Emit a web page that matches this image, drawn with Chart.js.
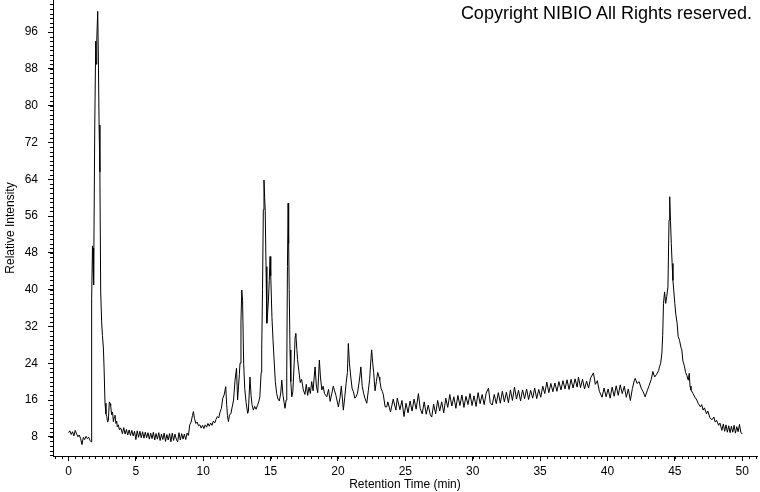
<!DOCTYPE html>
<html>
<head>
<meta charset="utf-8">
<script src="https://cdn.jsdelivr.net/npm/chart.js@4/dist/chart.umd.min.js"></script>
<style>
    html, body { margin: 0; padding: 0; background: #fff; }
    #wrap { position: relative; width: 760px; height: 492px; }
    #copyright {
        position: absolute; top: 4px; right: 8px;
        font: 18px/18px Arial, "Liberation Sans", sans-serif; color: #000;
    }
</style>
</head>
<body>
<div id="wrap">
    <canvas id="chart" width="760" height="492"></canvas>
    <div id="copyright">Copyright NIBIO All Rights reserved.</div>
</div>
<script>
// retention time (min) and relative intensity
const retentionTime = [
    0, 0.1, 0.2, 0.3, 0.4, 0.5, 0.6, 0.7, 0.8, 0.9, 1.0, 1.1, 1.2, 1.3, 1.4, 1.5, 1.6, 1.68,
    1.70, 1.74, 1.78, 1.82, 1.85, 1.88, 1.95, 2.02, 2.06, 2.10, 2.17, 2.22, 2.27, 2.33, 2.39, 2.46, 2.52, 2.59, 2.64, 2.71,
    2.78, 2.84, 2.90, 2.96, 3.03, 3.09, 3.13, 3.20, 3.27, 3.33, 3.39, 3.45, 3.52, 3.58, 3.62, 3.70, 3.77, 3.82,
    3.9, 4.0, 4.1, 4.2, 4.3, 4.4, 4.5, 4.6, 4.7, 4.8, 4.9, 5.0, 5.1, 5.2, 5.3, 5.4, 5.5, 5.6, 5.7, 5.8,
    5.9, 6.0, 6.1, 6.2, 6.3, 6.4, 6.5, 6.6, 6.7, 6.8, 6.9, 7.0, 7.1, 7.2, 7.3, 7.4, 7.5, 7.6, 7.7, 7.8,
    7.9, 8.0, 8.1, 8.2, 8.3, 8.4, 8.5, 8.6, 8.7, 8.8, 8.9,
    9.0, 9.1, 9.2, 9.27, 9.35, 9.45, 9.55, 9.65, 9.75, 9.85, 9.95, 10.05, 10.15, 10.25, 10.35, 10.45, 10.55, 10.65, 10.75, 10.85, 10.95, 11.05,
    11.15, 11.25, 11.35, 11.45, 11.55, 11.67, 11.74, 11.80, 11.87, 11.95, 12.05, 12.15, 12.25, 12.36, 12.47, 12.55, 12.62, 12.68, 12.73, 12.80,
    12.86, 12.92, 13.0, 13.08, 13.18, 13.30, 13.35, 13.47, 13.55, 13.62, 13.72, 13.82, 13.92, 14.02, 14.12, 14.2,
    14.3, 14.34, 14.40, 14.46, 14.51, 14.56, 14.6, 14.66, 14.72, 14.78, 14.84, 14.90, 14.96, 15.01, 15.10, 15.18, 15.26, 15.35, 15.45, 15.55,
    15.65, 15.75, 15.83, 15.92, 16.0, 16.07, 16.15, 16.2, 16.25, 16.3, 16.34, 16.38, 16.44, 16.5, 16.57, 16.65, 16.75, 16.82, 16.87, 16.95, 17.0,
    17.09, 17.2, 17.3, 17.43, 17.55, 17.65, 17.75, 17.85, 17.95, 18.05, 18.15, 18.3, 18.4, 18.5, 18.62, 18.7, 18.8, 18.9, 19.0, 19.17,
    19.3, 19.42, 19.55, 19.65, 19.75, 19.85, 20.03, 20.15, 20.25, 20.4, 20.5, 20.6, 20.7, 20.77, 20.85, 20.95, 21.05, 21.15, 21.25, 21.34,
    21.45, 21.55, 21.62, 21.7, 21.8, 21.9, 22.0, 22.14, 22.25, 22.35, 22.45, 22.5, 22.58, 22.65, 22.75, 22.85, 22.95, 23.05, 23.1, 23.2,
    23.3, 23.37, 23.5, 23.62,
    23.7, 23.9, 24.1, 24.3, 24.4, 24.6, 24.75, 24.9, 25.05, 25.2, 25.35, 25.5, 25.65, 25.8, 25.97, 26.1, 26.25, 26.4, 26.55, 26.7,
    26.85, 26.96, 27.1, 27.25, 27.4, 27.55, 27.7, 27.85, 28.0, 28.15, 28.3, 28.45, 28.6, 28.75, 28.9, 29.05, 29.2, 29.35, 29.5, 29.65,
    29.8, 29.95, 30.1, 30.25, 30.4, 30.55, 30.7, 30.85, 31.0, 31.17, 31.3, 31.45, 31.6, 31.75, 31.9, 32.05, 32.2, 32.35, 32.5, 32.65,
    32.8, 32.95, 33.1, 33.25, 33.4, 33.55, 33.7, 33.85, 34.0, 34.15, 34.3, 34.45, 34.6, 34.75, 34.9, 35.05, 35.2, 35.35, 35.5, 35.65,
    35.8, 35.95, 36.1, 36.25, 36.4, 36.55, 36.7, 36.85, 37.0, 37.15, 37.3, 37.45, 37.6, 37.75, 37.85, 38.0, 38.15, 38.3, 38.45, 38.6,
    38.75, 38.96, 39.1, 39.25, 39.4, 39.6, 39.75, 39.9, 40.05, 40.2, 40.35, 40.5, 40.65, 40.8, 40.95, 41.1, 41.25, 41.4, 41.55, 41.7,
    41.85, 42.0, 42.06, 42.2, 42.35, 42.5, 42.65, 42.8, 42.95, 43.1, 43.25, 43.37, 43.5, 43.65, 43.8, 43.86, 43.95,
    44.04, 44.1, 44.16, 44.24, 44.32, 44.4, 44.49, 44.57, 44.62, 44.68, 44.74, 44.8, 44.86, 44.92, 45.0, 45.08, 45.17, 45.25, 45.35, 45.45,
    45.52, 45.6, 45.7, 45.8, 45.9, 46.0, 46.07, 46.13, 46.2, 46.35, 46.5, 46.63, 46.75, 46.9, 47.0, 47.1, 47.2, 47.35, 47.45, 47.6,
    47.75, 47.9, 48.0, 48.1, 48.25, 48.35, 48.49, 48.6, 48.7, 48.8, 48.9, 49.0, 49.1, 49.2, 49.3, 49.4, 49.5, 49.6, 49.7, 49.8,
    49.9, 50.0
];

const intensity = [
    8.9, 9.3, 8.5, 9.1, 8.2, 9.4, 8.6, 8.0, 8.4, 7.6, 6.3, 7.9, 7.4, 8.1, 7.6, 7.9, 7.2, 6.9,
    20.0, 38.0, 49.5, 45.5, 49.0, 41.0, 75.8, 94.0, 89.0, 94.5, 100.5, 89.5, 75.8, 65.6, 39.5, 33.0, 30.0, 27.3, 23.0, 15.3,
    13.0, 12.4, 11.2, 11.6, 15.6, 15.2, 14.8, 12.8, 13.4, 11.3, 12.2, 12.7, 10.9, 11.4, 10.2, 10.6, 9.6, 9.9,
    9.8, 8.7, 10.0, 8.6, 9.6, 8.4, 9.5, 8.3, 9.4, 8.2, 9.2, 7.4, 9.3, 7.9, 9.2, 7.8, 9.1, 7.7, 9.0, 7.8,
    8.9, 7.5, 8.8, 7.6, 9.0, 7.3, 8.7, 7.5, 8.9, 7.2, 8.6, 7.4, 8.8, 7.0, 8.5, 7.3, 8.7, 6.9, 8.8, 7.2,
    8.6, 7.5, 6.9, 8.9, 7.3, 8.7, 7.5, 8.6, 7.4, 8.8, 8.3,
    10.6, 11.2, 12.6, 13.5, 12.0, 10.9, 11.2, 10.4, 10.6, 9.9, 10.5, 9.8, 10.6, 10.1, 10.9, 10.3, 11.0, 10.5, 11.4, 11.0, 11.8, 12.4,
    12.1, 13.4, 14.2, 16.4, 17.1, 18.9, 15.0, 12.6, 11.3, 12.8, 13.0, 14.5, 16.0, 20.3, 22.9, 16.0, 19.0, 21.5, 24.0, 33.0,
    39.9, 37.7, 24.0, 18.5, 15.5, 13.1, 13.5, 21.0, 17.0, 15.0, 13.8, 14.6, 14.0, 14.8, 15.6, 16.7,
    22.0, 26.9, 40.0, 57.3, 63.8, 60.0, 57.3, 45.0, 32.7, 35.0, 37.7, 42.0, 47.2, 43.0, 34.0, 29.0, 24.7, 20.0, 17.4, 16.2,
    15.8, 17.5, 20.3, 17.0, 15.5, 14.2, 16.0, 22.5, 45.0, 58.8, 50.0, 40.0, 26.9, 20.0, 16.7, 17.8, 24.0, 29.8, 30.5, 27.0, 24.8,
    22.5, 19.8, 20.5, 18.2, 17.2, 19.4, 17.0, 18.8, 17.4, 20.0, 18.0, 23.2, 19.0, 17.6, 24.7, 21.0, 18.2, 19.0, 17.4, 16.7,
    18.3, 15.7, 17.5, 19.0, 18.0, 17.0, 14.5, 16.5, 19.0, 13.8, 16.5, 19.5, 22.0, 28.3, 24.0, 21.0, 18.5, 17.8, 16.4, 16.7,
    17.5, 19.5, 21.0, 23.2, 19.0, 17.5, 16.4, 15.3, 18.0, 20.5, 25.0, 26.9, 24.0, 22.0, 18.0, 20.0, 22.0, 21.0, 20.3, 18.5,
    17.8, 17.1, 14.5, 14.5,
    15.6, 13.4, 16.2, 13.8, 16.4, 13.9, 15.9, 12.4, 15.3, 13.2, 15.8, 13.6, 16.2, 14.0, 17.4, 14.2, 13.0, 15.6, 12.9, 14.9,
    12.8, 12.3, 15.1, 13.0, 15.9, 13.6, 15.6, 13.2, 16.4, 14.4, 17.2, 14.7, 16.7, 14.2, 17.0, 14.8, 17.1, 14.4, 16.8, 15.0,
    17.4, 14.8, 16.9, 14.6, 17.6, 15.2, 17.2, 15.0, 17.5, 18.6, 15.4, 14.9, 17.2, 15.2, 17.6, 15.3, 17.9, 15.6, 17.7, 15.4,
    18.2, 15.9, 18.8, 16.2, 18.1, 15.8, 18.2, 16.3, 18.4, 16.1, 18.1, 16.4, 18.6, 16.3, 18.3, 16.6, 19.0, 17.4, 19.9, 17.6,
    19.6, 17.8, 19.7, 17.9, 20.0, 18.2, 20.2, 18.4, 20.4, 18.3, 20.5, 18.6, 20.6, 18.8, 21.0, 18.7, 20.5, 18.4, 20.1, 18.6,
    20.8, 21.9, 19.4, 20.2, 17.9, 16.6, 18.6, 16.7, 18.4, 16.4, 18.8, 16.8, 19.1, 17.0, 19.3, 17.4, 19.0, 16.6, 18.4, 15.9,
    18.5, 20.3, 20.7, 19.6, 20.0, 18.6, 17.8, 16.7, 18.0, 19.2, 20.5, 22.2, 21.0, 21.6, 22.4, 23.2, 24.0,
    26.2, 30.0, 37.0, 39.5, 37.0, 38.5, 40.6, 55.1, 60.2, 55.0, 50.0, 45.7, 42.0, 39.9, 37.0, 34.5, 32.7, 29.8, 29.0, 27.5,
    26.9, 24.5, 23.5, 22.0, 21.3, 20.3, 21.8, 19.0, 18.2, 17.4, 16.6, 16.0, 15.2, 14.5, 15.0, 13.8, 14.3, 13.0, 13.6, 12.2,
    11.7, 12.3, 11.2, 11.6, 10.5, 11.0, 9.4, 10.8, 9.2, 10.6, 9.0, 10.4, 8.9, 10.3, 9.0, 10.5, 8.8, 10.2, 9.1, 10.7,
    9.0, 8.6
];

const xTicks = [0, 5, 10, 15, 20, 25, 30, 35, 40, 45, 50];
const yTicks = [8, 16, 24, 32, 40, 48, 56, 64, 72, 80, 88, 96];
const xRange = [-1.15, 51.1];
const yRange = [3.83, 102.96];
const xMinorStep = 0.5;
const yMinorStep = 1;

(() => {
    const font = { family: "Arial, 'Liberation Sans', sans-serif", size: 12 };

    const points = retentionTime.slice(0, Math.min(retentionTime.length, intensity.length))
        .map((t, i) => ({ x: t, y: intensity[i] }));
    if (retentionTime.length !== intensity.length) {
        console.warn("length mismatch", retentionTime.length, intensity.length);
    }

    // no extra room around the axes for the end labels
    const noEdgePadding = (s) => {
        s.paddingTop = 0;
        s.paddingBottom = 0;
        s.paddingLeft = 0;
        s.paddingRight = 0;
    };

    // short ticks between the labelled ones
    const minorTicks = {
        id: "minorTicks",
        afterDraw(chart) {
            const { ctx, scales: { x, y } } = chart;
            ctx.save();
            ctx.strokeStyle = "#000";
            ctx.lineWidth = 1;
            ctx.beginPath();
            for (let v = Math.ceil(y.min); v <= y.max; v += yMinorStep) {
                const py = Math.round(y.getPixelForValue(v)) + 0.5;
                ctx.moveTo(y.right - 3, py);
                ctx.lineTo(y.right, py);
            }
            for (let v = Math.ceil(x.min / xMinorStep) * xMinorStep; v <= x.max; v += xMinorStep) {
                const px = Math.round(x.getPixelForValue(v)) + 0.5;
                ctx.moveTo(px, x.top);
                ctx.lineTo(px, x.top + 3);
            }
            ctx.stroke();
            ctx.restore();
        }
    };

    new Chart(document.getElementById("chart"), {
        type: "line",
        data: {
            datasets: [
                {
                    data: points,
                    borderColor: "#000",
                    borderWidth: 1,
                    pointRadius: 0,
                    tension: 0,
                    fill: false
                }
            ]
        },
        options: {
            responsive: false,
            animation: false,
            devicePixelRatio: 1,
            layout: { padding: { top: 0, right: 3, bottom: 0, left: 0 } },
            plugins: {
                legend: { display: false },
                tooltip: { enabled: false }
            },
            scales: {
                x: {
                    type: "linear",
                    min: xRange[0],
                    max: xRange[1],
                    afterBuildTicks: (s) => { s.ticks = xTicks.map(v => ({ value: v })); },
                    afterFit: (s) => { s.height = 36; noEdgePadding(s); },
                    border: { color: "#000", width: 1 },
                    grid: { drawOnChartArea: false, tickLength: 5, tickColor: "#000" },
                    ticks: { color: "#000", font, padding: 3, maxRotation: 0 },
                    title: {
                        display: true,
                        text: "Retention Time (min)",
                        color: "#000",
                        font,
                        padding: { top: 0, bottom: 0 }
                    }
                },
                y: {
                    type: "linear",
                    min: yRange[0],
                    max: yRange[1],
                    afterBuildTicks: (s) => { s.ticks = yTicks.map(v => ({ value: v })); },
                    afterFit: (s) => { s.width = 53; noEdgePadding(s); },
                    border: { color: "#000", width: 1 },
                    grid: { drawOnChartArea: false, tickLength: 5, tickColor: "#000" },
                    ticks: { color: "#000", font, padding: 10 },
                    title: {
                        display: true,
                        text: "Relative Intensity",
                        color: "#000",
                        font,
                        padding: { top: 3, bottom: 0 }
                    }
                }
            }
        },
        plugins: [minorTicks]
    });
})();
</script>
</body>
</html>
